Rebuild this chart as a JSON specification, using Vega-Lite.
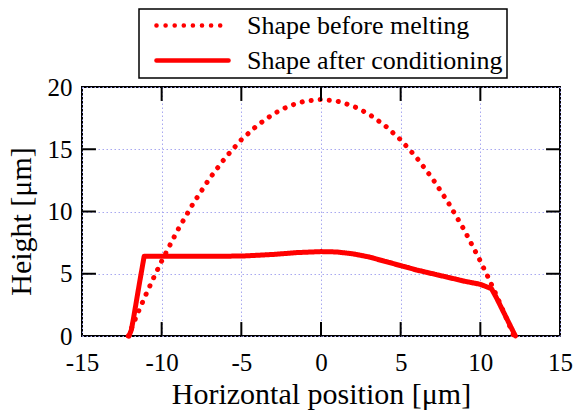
{
  "$schema": "https://vega.github.io/schema/vega-lite/v6.json",
  "autosize": {"type": "none"},
  "padding": {"left": 82, "top": 87, "right": 17, "bottom": 78},
  "width": 478,
  "height": 249,
  "background": "white",
  "config": {
    "font": "Liberation Serif",
    "view": {"stroke": "black", "strokeWidth": 2},
    "legend": {"strokeWidth": 1.5, "strokeColor": "black"},
    "axis": {"labelFont": "Liberation Serif", "titleFont": "Liberation Serif"}
  },
  "datasets": {
    "xticks": [{"x": -10}, {"x": -5}, {"x": 0}, {"x": 5}, {"x": 10}],
    "yticks": [{"y": 5}, {"y": 10}, {"y": 15}],
    "curves": [
      {"series": "Shape before melting", "x": -12.1, "y": 0},
      {"series": "Shape before melting", "x": -11.5, "y": 1.84},
      {"series": "Shape before melting", "x": -11, "y": 3.3},
      {"series": "Shape before melting", "x": -10.5, "y": 4.69},
      {"series": "Shape before melting", "x": -10, "y": 6.02},
      {"series": "Shape before melting", "x": -9, "y": 8.49},
      {"series": "Shape before melting", "x": -8, "y": 10.69},
      {"series": "Shape before melting", "x": -7, "y": 12.64},
      {"series": "Shape before melting", "x": -6, "y": 14.33},
      {"series": "Shape before melting", "x": -5, "y": 15.76},
      {"series": "Shape before melting", "x": -4, "y": 16.92},
      {"series": "Shape before melting", "x": -3, "y": 17.83},
      {"series": "Shape before melting", "x": -2, "y": 18.48},
      {"series": "Shape before melting", "x": -1, "y": 18.87},
      {"series": "Shape before melting", "x": 0, "y": 19},
      {"series": "Shape before melting", "x": 1, "y": 18.87},
      {"series": "Shape before melting", "x": 2, "y": 18.48},
      {"series": "Shape before melting", "x": 3, "y": 17.83},
      {"series": "Shape before melting", "x": 4, "y": 16.92},
      {"series": "Shape before melting", "x": 5, "y": 15.76},
      {"series": "Shape before melting", "x": 6, "y": 14.33},
      {"series": "Shape before melting", "x": 7, "y": 12.64},
      {"series": "Shape before melting", "x": 8, "y": 10.69},
      {"series": "Shape before melting", "x": 9, "y": 8.49},
      {"series": "Shape before melting", "x": 10, "y": 6.02},
      {"series": "Shape before melting", "x": 10.5, "y": 4.69},
      {"series": "Shape before melting", "x": 11, "y": 3.3},
      {"series": "Shape before melting", "x": 11.5, "y": 1.84},
      {"series": "Shape before melting", "x": 12.1, "y": 0},
      {"series": "Shape after conditioning", "x": -12.05, "y": 0},
      {"series": "Shape after conditioning", "x": -11.9, "y": 0.5},
      {"series": "Shape after conditioning", "x": -11.75, "y": 1.55},
      {"series": "Shape after conditioning", "x": -11.4, "y": 4.2},
      {"series": "Shape after conditioning", "x": -11.1, "y": 6.4},
      {"series": "Shape after conditioning", "x": -8, "y": 6.4},
      {"series": "Shape after conditioning", "x": -5, "y": 6.42},
      {"series": "Shape after conditioning", "x": -3, "y": 6.55},
      {"series": "Shape after conditioning", "x": -1.5, "y": 6.7},
      {"series": "Shape after conditioning", "x": 0, "y": 6.78},
      {"series": "Shape after conditioning", "x": 1, "y": 6.75},
      {"series": "Shape after conditioning", "x": 2, "y": 6.6},
      {"series": "Shape after conditioning", "x": 3, "y": 6.35},
      {"series": "Shape after conditioning", "x": 4, "y": 6.0},
      {"series": "Shape after conditioning", "x": 5, "y": 5.65},
      {"series": "Shape after conditioning", "x": 6, "y": 5.3},
      {"series": "Shape after conditioning", "x": 7.5, "y": 4.85},
      {"series": "Shape after conditioning", "x": 9, "y": 4.4},
      {"series": "Shape after conditioning", "x": 10, "y": 4.15},
      {"series": "Shape after conditioning", "x": 10.7, "y": 3.8},
      {"series": "Shape after conditioning", "x": 11.0, "y": 3.1},
      {"series": "Shape after conditioning", "x": 11.6, "y": 1.55},
      {"series": "Shape after conditioning", "x": 12.2, "y": 0}
    ]
  },
  "layer": [
    {
      "data": {"name": "curves"},
      "mark": {"type": "line", "color": "#ff0000", "strokeWidth": 5, "strokeCap": "round", "strokeJoin": "round"},
      "encoding": {
        "x": {
          "field": "x", "type": "quantitative",
          "scale": {"domain": [-15, 15], "nice": false, "zero": false},
          "axis": {
            "orient": "bottom", "values": [-15, -10, -5, 0, 5, 10, 15],
            "ticks": false, "domain": false,
            "labelFont": "Liberation Serif", "labelFontSize": 25, "labelPadding": 14, "labelFlush": false, "labelOverlap": false, "labelColor": "black",
            "labelExpr": "replace(datum.label, '\u2212', '-')",
            "grid": true, "gridColor": "#a8a8f0", "gridDash": [1.5, 2.5], "gridWidth": 1,
            "title": "Horizontal position [μm]", "titleFont": "Liberation Serif", "titleFontSize": 30, "titleFontWeight": "normal", "titleColor": "black",
            "titleBaseline": "alphabetic", "titleY": 67, "titleX": 239, "titleAlign": "center"
          }
        },
        "y": {
          "field": "y", "type": "quantitative",
          "scale": {"domain": [0, 20], "nice": false},
          "axis": {
            "orient": "left", "values": [0, 5, 10, 15, 20],
            "ticks": false, "domain": false,
            "labelFont": "Liberation Serif", "labelFontSize": 25, "labelPadding": 10, "labelFlush": false, "labelOverlap": false, "labelColor": "black",
            "grid": true, "gridColor": "#a8a8f0", "gridDash": [1.5, 2.5], "gridWidth": 1,
            "title": "Height [μm]", "titleFont": "Liberation Serif", "titleFontSize": 30, "titleFontWeight": "normal", "titleColor": "black",
            "titleBaseline": "alphabetic", "titleX": -52, "titleY": 134, "titleAlign": "center", "titleAngle": -90
          }
        },
        "strokeDash": {
          "field": "series", "type": "nominal",
          "scale": {"domain": ["Shape before melting", "Shape after conditioning"], "range": [[0.1, 9], [1, 0]]},
          "legend": {
            "title": null, "orient": "none", "legendX": 57, "legendY": -78, "direction": "vertical",
            "labelFont": "Liberation Serif", "labelFontSize": 26, "labelColor": "black", "labelOffset": 16, "labelLimit": 0,
            "symbolType": "stroke", "symbolSize": 5200, "symbolStrokeWidth": 4.5, "symbolStrokeColor": "#ff0000",
            "symbolOffset": 11, "padding": 4, "rowPadding": 8,
            "clipHeight": 25,
            "encode": {"symbols": {"update": {"strokeCap": {"value": "round"}}}}
          }
        }
      }
    },
    {
      "data": {"name": "xticks"},
      "mark": {"type": "rule", "color": "black", "strokeWidth": 2},
      "encoding": {
        "x": {"field": "x", "type": "quantitative", "scale": {"domain": [-15, 15], "nice": false, "zero": false}},
        "y": {"datum": 0, "type": "quantitative", "scale": {"domain": [0, 20], "nice": false}},
        "y2": {"datum": 1.12}
      }
    },
    {
      "data": {"name": "xticks"},
      "mark": {"type": "rule", "color": "black", "strokeWidth": 2},
      "encoding": {
        "x": {"field": "x", "type": "quantitative", "scale": {"domain": [-15, 15], "nice": false, "zero": false}},
        "y": {"datum": 20, "type": "quantitative", "scale": {"domain": [0, 20], "nice": false}},
        "y2": {"datum": 18.88}
      }
    },
    {
      "data": {"name": "yticks"},
      "mark": {"type": "rule", "color": "black", "strokeWidth": 2},
      "encoding": {
        "y": {"field": "y", "type": "quantitative", "scale": {"domain": [0, 20], "nice": false}},
        "x": {"datum": -15, "type": "quantitative", "scale": {"domain": [-15, 15], "nice": false, "zero": false}},
        "x2": {"datum": -14.125}
      }
    },
    {
      "data": {"name": "yticks"},
      "mark": {"type": "rule", "color": "black", "strokeWidth": 2},
      "encoding": {
        "y": {"field": "y", "type": "quantitative", "scale": {"domain": [0, 20], "nice": false}},
        "x": {"datum": 15, "type": "quantitative", "scale": {"domain": [-15, 15], "nice": false, "zero": false}},
        "x2": {"datum": 14.125}
      }
    }
  ]
}
